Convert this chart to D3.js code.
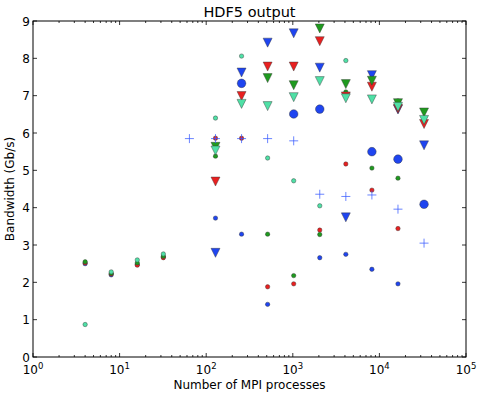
<!DOCTYPE html>
<html><head><meta charset="utf-8">
<script src="https://cdn.jsdelivr.net/npm/d3@7/dist/d3.min.js"></script>
<style>body{margin:0;background:#fff}svg{display:block}text{font-family:"DejaVu Sans",sans-serif;fill:#000}</style>
</head><body>
<script>
const procs = [4,8,16,32,64,128,256,512,1024,2048,4096,8192,16384,32768];
// small circles
const smallBlue  = [2.50,2.20,2.48,2.68,null,3.72,3.29,1.41,null,2.66,2.75,2.35,1.96,null];
const smallRed   = [2.52,2.22,2.46,2.66,null,5.86,5.86,1.88,1.96,3.40,5.17,4.47,3.44,null];
const smallGreen = [2.55,2.24,2.52,2.70,null,5.38,null,3.29,2.18,3.28,7.10,5.06,4.79,null];
const smallCyan  = [0.87,2.28,2.60,2.76,null,6.40,8.06,5.33,4.72,4.05,7.94,null,6.86,null];
// triangles
const triBlue  = [null,null,null,null,null,2.79,7.62,8.42,8.67,7.75,3.74,7.55,6.63,5.67];
const triRed   = [null,null,null,null,null,4.70,6.99,7.78,7.78,8.46,6.98,7.24,6.65,6.24];
const triGreen = [null,null,null,null,null,5.63,null,7.47,7.28,8.80,7.31,7.40,6.80,6.55];
const triAqua  = [null,null,null,null,null,5.53,6.78,6.72,6.96,7.39,6.93,6.90,6.70,6.35];
// large circles and plus
const bigBlue  = [null,null,null,null,null,null,7.33,null,6.51,6.64,null,5.50,5.30,4.09];
const plusBlue = [null,null,null,null,5.85,5.85,5.85,5.85,5.79,4.36,4.30,4.34,3.96,3.05];

const title = "HDF5 output";
const xLabel = "Number of MPI processes";
const yLabel = "Bandwidth (Gb/s)";
const yTicks = [0,1,2,3,4,5,6,7,8,9];
const xTicks = [1,10,100,1000,10000,100000];

const W=485,H=399, L=33, R=466, T=21, B=357;
const svg = d3.select("body").append("svg").attr("width",W).attr("height",H);
const x = d3.scaleLog().domain([1,1e5]).range([L,R]);
const y = d3.scaleLinear().domain([0,9]).range([B,T]);

const C = {blue:"#1f45f0", red:"#e82020", green:"#1f9a1f", aqua:"#4fe0a6"};
const edge = "#333";

function pts(vals){ return procs.map((p,i)=>({p,v:vals[i]})).filter(d=>d.v!=null); }
const g = svg.append("g");

function circles(vals,color,r){
  g.selectAll(null).data(pts(vals)).enter().append("circle")
    .attr("cx",d=>x(d.p)).attr("cy",d=>y(d.v)).attr("r",r)
    .attr("fill",color).attr("stroke",edge).attr("stroke-width",0.6).attr("stroke-opacity",0.7);
}
function tris(vals,color){
  const s=4.5;
  g.selectAll(null).data(pts(vals)).enter().append("path")
    .attr("d",d=>{const cx=x(d.p),cy=y(d.v);return `M${cx-s},${cy-s}L${cx+s},${cy-s}L${cx},${cy+s}Z`;})
    .attr("fill",color).attr("stroke",edge).attr("stroke-width",0.6).attr("stroke-opacity",0.7);
}
function plus(vals,color){
  const s=4.5;
  g.selectAll(null).data(pts(vals)).enter().append("path")
    .attr("d",d=>{const cx=x(d.p),cy=y(d.v);return `M${cx-s},${cy}H${cx+s}M${cx},${cy-s}V${cy+s}`;})
    .attr("stroke",color).attr("stroke-width",1).attr("fill","none").attr("opacity",0.75);
}
circles(smallBlue,C.blue,2.2);
circles(smallRed,C.red,2.2);
circles(smallGreen,C.green,2.2);
circles(smallCyan,C.aqua,2.2);
tris(triBlue,C.blue);
tris(triRed,C.red);
tris(triGreen,C.green);
tris(triAqua,C.aqua);
circles(bigBlue,C.blue,4.3);
plus(plusBlue,"#3a5cff");

// frame
svg.append("rect").attr("x",L).attr("y",T).attr("width",R-L).attr("height",B-T)
  .attr("fill","none").attr("stroke","#000").attr("stroke-width",1);

// ticks
const ax = svg.append("g").attr("stroke","#000").attr("stroke-width",0.8);
const minor=[];
for(let e=0;e<5;e++) for(let k=2;k<10;k++) minor.push(k*Math.pow(10,e));
minor.forEach(v=>{
  ax.append("line").attr("x1",x(v)).attr("x2",x(v)).attr("y1",B).attr("y2",B-2);
  ax.append("line").attr("x1",x(v)).attr("x2",x(v)).attr("y1",T).attr("y2",T+2);
});
xTicks.forEach(v=>{
  ax.append("line").attr("x1",x(v)).attr("x2",x(v)).attr("y1",B).attr("y2",B-4);
  ax.append("line").attr("x1",x(v)).attr("x2",x(v)).attr("y1",T).attr("y2",T+4);
});
yTicks.forEach(v=>{
  ax.append("line").attr("x1",L).attr("x2",L+4).attr("y1",y(v)).attr("y2",y(v));
  ax.append("line").attr("x1",R).attr("x2",R-4).attr("y1",y(v)).attr("y2",y(v));
});

// tick labels
yTicks.forEach(v=>{
  svg.append("text").attr("x",L-3).attr("y",y(v)+4.5).attr("text-anchor","end")
    .attr("font-size",12).text(v);
});
xTicks.forEach(v=>{
  const t=svg.append("text").attr("x",x(v)).attr("y",B+17).attr("text-anchor","middle").attr("font-size",12);
  t.append("tspan").text("10");
  t.append("tspan").attr("dy",-5).attr("font-size",8.5).text(Math.round(Math.log10(v)));
});

svg.append("text").attr("x",(L+R)/2).attr("y",16.5).attr("text-anchor","middle").attr("font-size",14.5).text(title);
svg.append("text").attr("x",(L+R)/2).attr("y",389).attr("text-anchor","middle").attr("font-size",12).text(xLabel);
svg.append("text").attr("transform",`translate(14,${(T+B)/2}) rotate(-90)`).attr("text-anchor","middle").attr("font-size",12).text(yLabel);
</script>
</body></html>
